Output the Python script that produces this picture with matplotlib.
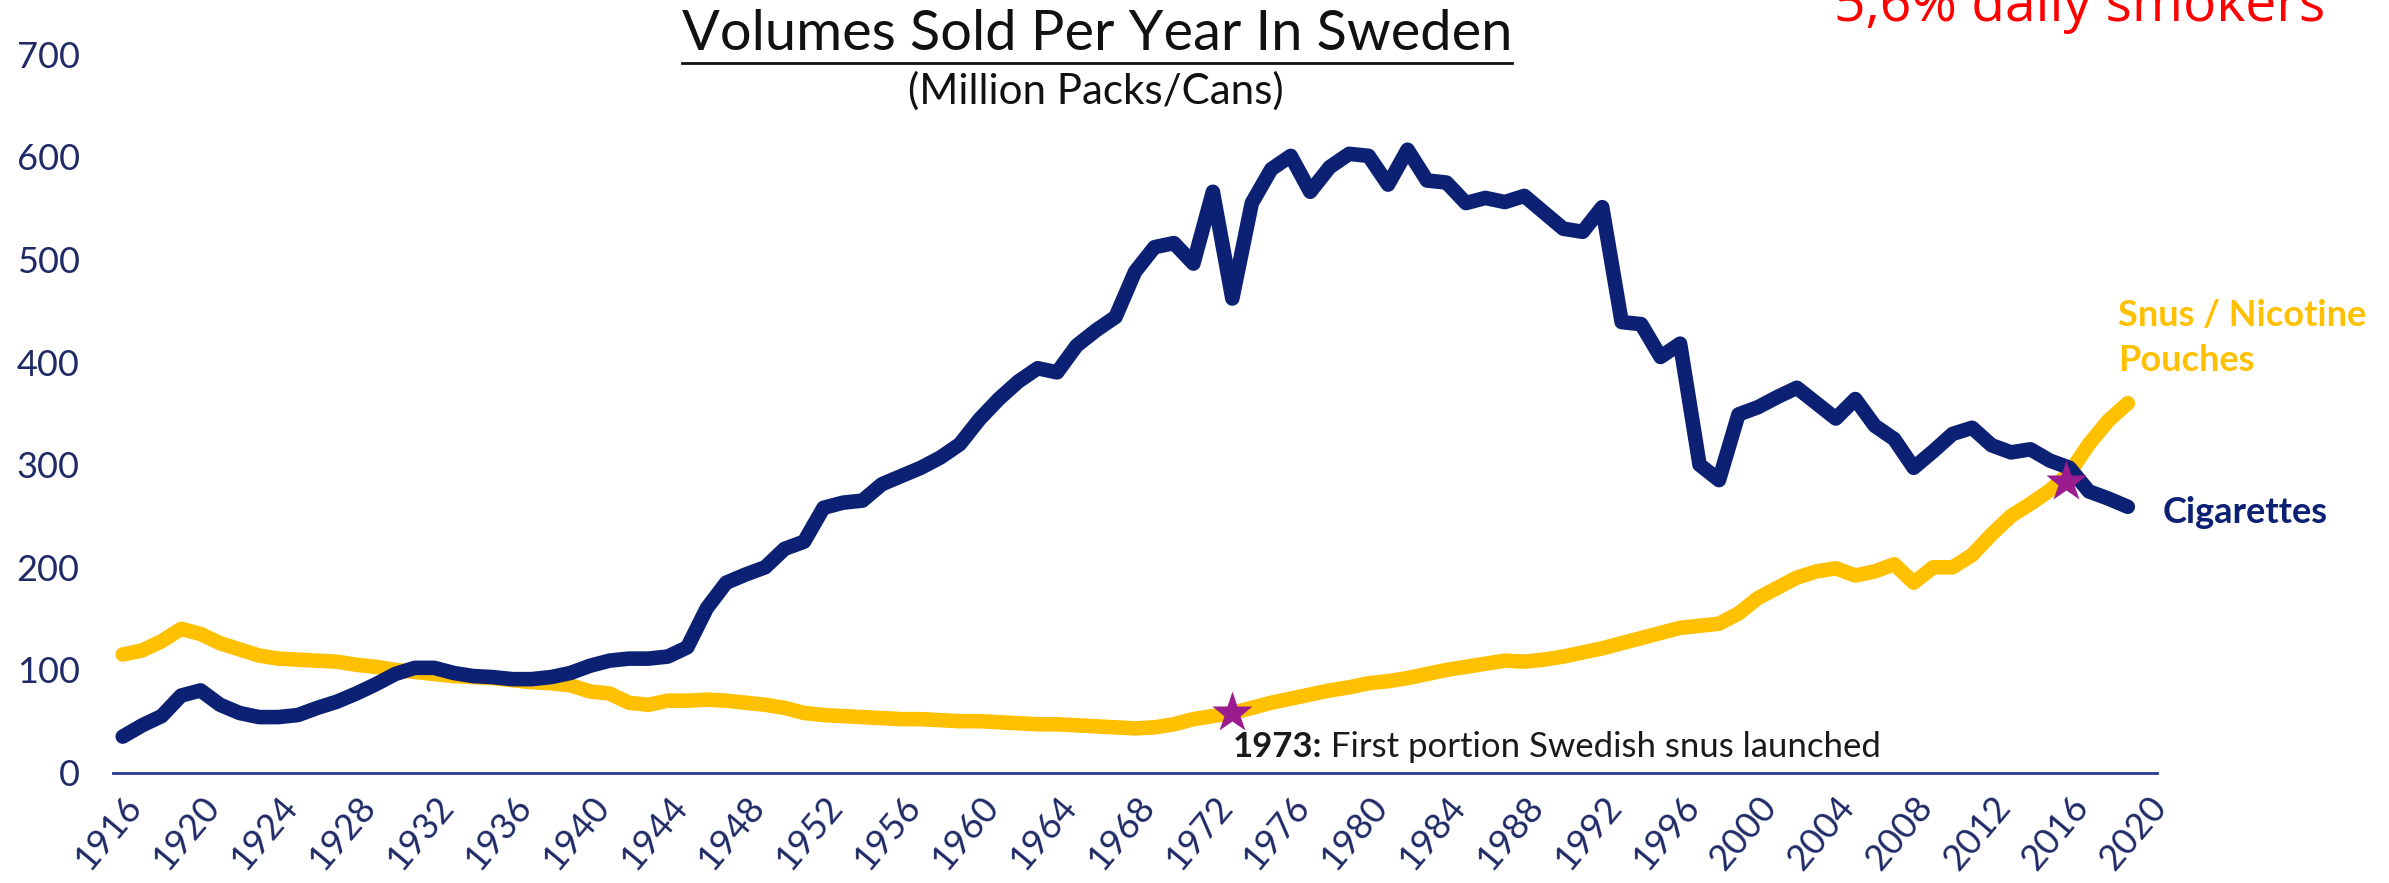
import matplotlib.pyplot as plt
from matplotlib.lines import Line2D

# Volumes sold per year in Sweden (million packs / cans)
years = list(range(1916, 2020))
cigarettes = [
    35, 46, 55, 75, 80, 66, 58, 54, 54, 56,
    63, 69, 77, 86, 96, 102, 102, 97, 94, 93,
    91, 91, 93, 97, 104, 109, 111, 111, 113, 122,
    160, 185, 193, 200, 218, 225, 258, 263, 265, 281,
    289, 297, 307, 320, 344, 364, 381, 394, 390, 416,
    431, 444, 488, 512, 516, 496, 566, 462, 555, 588,
    601, 566, 590, 603, 601, 573, 607, 577, 575, 555,
    560, 556, 562, 546, 530, 527, 551, 439, 437, 405,
    418, 300, 285, 349, 356, 366, 375, 360, 345, 364,
    338, 325, 297, 313, 330, 336, 319, 312, 315, 304,
    297, 274, 267, 259,
]
snus = [
    115, 119, 128, 140, 135, 126, 120, 114, 111, 110,
    109, 108, 105, 103, 100, 98, 96, 94, 93, 92,
    90, 88, 87, 85, 79, 77, 68, 66, 70, 70,
    71, 70, 68, 66, 63, 58, 56, 55, 54, 53,
    52, 52, 51, 50, 50, 49, 48, 47, 47, 46,
    45, 44, 43, 44, 47, 52, 55, 58, 63, 68,
    72, 76, 80, 83, 87, 89, 92, 96, 100, 103,
    106, 109, 108, 110, 113, 117, 121, 126, 131, 136,
    141, 143, 145, 155, 170, 180, 190, 196, 199, 192,
    196, 203, 185, 200, 200, 212, 232, 250, 262, 275,
    292, 320, 343, 360,
]
tick_years = list(range(1916, 2021, 4))
y_ticks = [0, 100, 200, 300, 400, 500, 600, 700]

# star markers: 1973 launch of portion snus, and the crossover point
star_years = [1973, 2015.8]
star_values = [58, 283]

NAVY = '#0C2074'
GOLD = '#FFC000'
LABEL = '#1F2A66'
W, H = 2389, 883


def px(x, y):
    return x / W, 1 - y / H


fig = plt.figure(figsize=(W / 100, H / 100), dpi=100)
ax = fig.add_axes([113 / W, 1 - 772.5 / H, 2044 / W, 718.2 / H])

ax.plot(years, snus, color=GOLD, lw=10.5, solid_capstyle='round',
        solid_joinstyle='round', clip_on=False, zorder=2)
ax.plot(years, cigarettes, color=NAVY, lw=10.5, solid_capstyle='round',
        solid_joinstyle='round', clip_on=False, zorder=3)
ax.plot(star_years, star_values, ls='none', marker='*', ms=31,
        color='#9B1C8E', mec='none', clip_on=False, zorder=4)

ax.set_xlim(1915.5, 2020.5)
ax.set_ylim(0, 700)
for s in ['top', 'right', 'left']:
    ax.spines[s].set_visible(False)
ax.spines['bottom'].set_color('#2B3990')
ax.spines['bottom'].set_linewidth(2)

ax.set_yticks(y_ticks)
ax.set_yticklabels([str(v) for v in y_ticks], fontsize=26, family='Lato', color=LABEL)
ax.tick_params(axis='y', length=0, pad=24)
ax.set_xticks(tick_years)
ax.set_xticklabels([str(v) for v in tick_years], fontsize=26, family='Lato',
                   color=LABEL, rotation=50, ha='right', va='top',
                   rotation_mode='anchor')
ax.tick_params(axis='x', length=0, pad=13)

renderer = fig.canvas.get_renderer()


def fit(t, width):
    w = t.get_window_extent(renderer).width
    t.set_fontsize(t.get_fontsize() * width / w)


title = fig.text(*px(1097, 50), 'Volumes Sold Per Year In Sweden', ha='center',
                 va='baseline', family='Lato', fontsize=36, color='#111111')
fit(title, 829)
bb = title.get_window_extent(renderer)
fig.add_artist(Line2D([bb.x0 / W, bb.x1 / W], [1 - 63 / H, 1 - 63 / H],
                      color='#111111', lw=2))

sub = fig.text(*px(1096, 104), '(Million Packs/Cans)', ha='center',
               va='baseline', family='Lato', fontsize=22, color='#111111')
fit(sub, 375)

red = fig.text(*px(1834, 21), '5,6% daily smokers', ha='left', va='baseline',
               family='Open Sans', fontsize=40, color='#FF0000')
fit(red, 490)

fig.text(*px(2118, 326), 'Snus / Nicotine', ha='left', va='baseline',
         family='Lato', fontweight='bold', fontsize=26, color=GOLD)
fig.text(*px(2118, 371), 'Pouches', ha='left', va='baseline',
         family='Lato', fontweight='bold', fontsize=26, color=GOLD)
fig.text(*px(2163, 523), 'Cigarettes', ha='left', va='baseline',
         family='Lato', fontweight='bold', fontsize=26, color=NAVY)

a1 = fig.text(*px(1233, 757), '1973:', ha='left', va='baseline',
              family='Lato', fontweight='bold', fontsize=25, color='#1A1A1A')
w1 = a1.get_window_extent(renderer).width
fig.text((1233 + w1) / W, 1 - 757 / H, ' First portion Swedish snus launched',
         ha='left', va='baseline', family='Lato', fontsize=25, color='#1A1A1A')

fig.savefig('out.png', dpi=100)
